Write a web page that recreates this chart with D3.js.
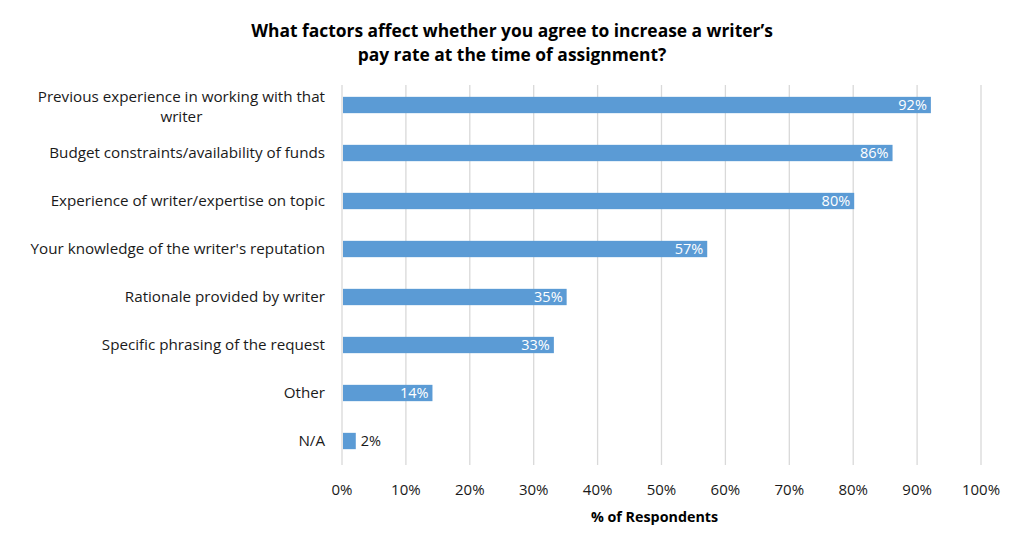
<!DOCTYPE html>
<meta charset="utf-8">
<style>
  body { margin: 0; background: #fff; font-family: "Open Sans", sans-serif; }
</style>
<body>
<div id="chart"></div>
<script src="https://cdn.jsdelivr.net/npm/d3@7"></script>
<script>
const categories = [
  ["Previous experience in working with that", "writer"],
  ["Budget constraints/availability of funds"],
  ["Experience of writer/expertise on topic"],
  ["Your knowledge of the writer's reputation"],
  ["Rationale provided by writer"],
  ["Specific phrasing of the request"],
  ["Other"],
  ["N/A"]
];
const values = [92, 86, 80, 57, 35, 33, 14, 2];
const ticks = [0, 10, 20, 30, 40, 50, 60, 70, 80, 90, 100];

const width = 1024, height = 533;
const margin = {left: 342, right: 43, top: 81, bottom: 68};

const svg = d3.select("#chart").append("svg")
  .attr("width", width).attr("height", height)
  .style("font-family", "'Open Sans', sans-serif");

const x = d3.scaleLinear().domain([0, 100]).range([margin.left, width - margin.right]);
const y = d3.scaleBand().domain(d3.range(categories.length))
  .range([margin.top, height - margin.bottom]).paddingInner(0.66).paddingOuter(0.33);

// gridlines
svg.append("g").selectAll("line").data(ticks).join("line")
  .attr("x1", d => x(d)).attr("x2", d => x(d))
  .attr("y1", margin.top + 4).attr("y2", height - margin.bottom)
  .attr("stroke", "#d9d9d9").attr("stroke-width", 1.3);

// bars
svg.append("g").selectAll("rect").data(values).join("rect")
  .attr("x", x(0) + 1).attr("y", (d, i) => y(i))
  .attr("width", d => x(d) - x(0)).attr("height", y.bandwidth())
  .attr("fill", "#5b9bd5");

// value labels
svg.append("g").selectAll("text").data(values).join("text")
  .attr("x", d => d < 5 ? x(d) + 6 : x(d) - 3)
  .attr("y", (d, i) => y(i) + y.bandwidth() / 2)
  .attr("dy", "0.36em")
  .attr("text-anchor", d => d < 5 ? "start" : "end")
  .attr("fill", d => d < 5 ? "#1a1a1a" : "#fff")
  .style("font-size", "14.5px")
  .text(d => d + "%");

// category labels
const labelRight = 325;
const lab = svg.append("g").style("font-size", "15.2px").attr("fill", "#1a1a1a");
categories.forEach((lines, i) => {
  const t = lab.append("text").attr("text-anchor", "middle");
  lines.forEach((l, j) => t.append("tspan").text(l));
  const w = d3.max(t.selectAll("tspan").nodes(), n => n.getComputedTextLength());
  const cx = labelRight - w / 2;
  const cy = y(i) + y.bandwidth() / 2;
  const lh = 20;
  t.selectAll("tspan")
    .attr("x", cx)
    .attr("y", (d, j) => cy + (j - (lines.length - 1) / 2) * lh + (lines.length > 1 ? 2 : 0))
    .attr("dy", "0.36em");
});

// x axis tick labels
svg.append("g").selectAll("text").data(ticks).join("text")
  .attr("x", d => x(d)).attr("y", 490).attr("dy", "0.36em")
  .attr("text-anchor", "middle").attr("fill", "#1a1a1a")
  .style("font-size", "15px")
  .text(d => d + "%");

// axis title
svg.append("text")
  .attr("x", (x(0) + x(100)) / 2 - 7).attr("y", 517).attr("dy", "0.36em")
  .attr("text-anchor", "middle").attr("fill", "#000")
  .style("font-size", "14.3px").style("font-weight", "bold")
  .text("% of Respondents");

// chart title
const title = svg.append("text").attr("text-anchor", "middle").attr("fill", "#000")
  .style("font-size", "17.4px").style("font-weight", "bold");
["What factors affect whether you agree to increase a writer’s", "pay rate at the time of assignment?"]
  .forEach((l, j) => title.append("tspan").attr("x", 512).attr("y", 31 + j * 24).attr("dy", "0.36em").text(l));
</script>
</body>
